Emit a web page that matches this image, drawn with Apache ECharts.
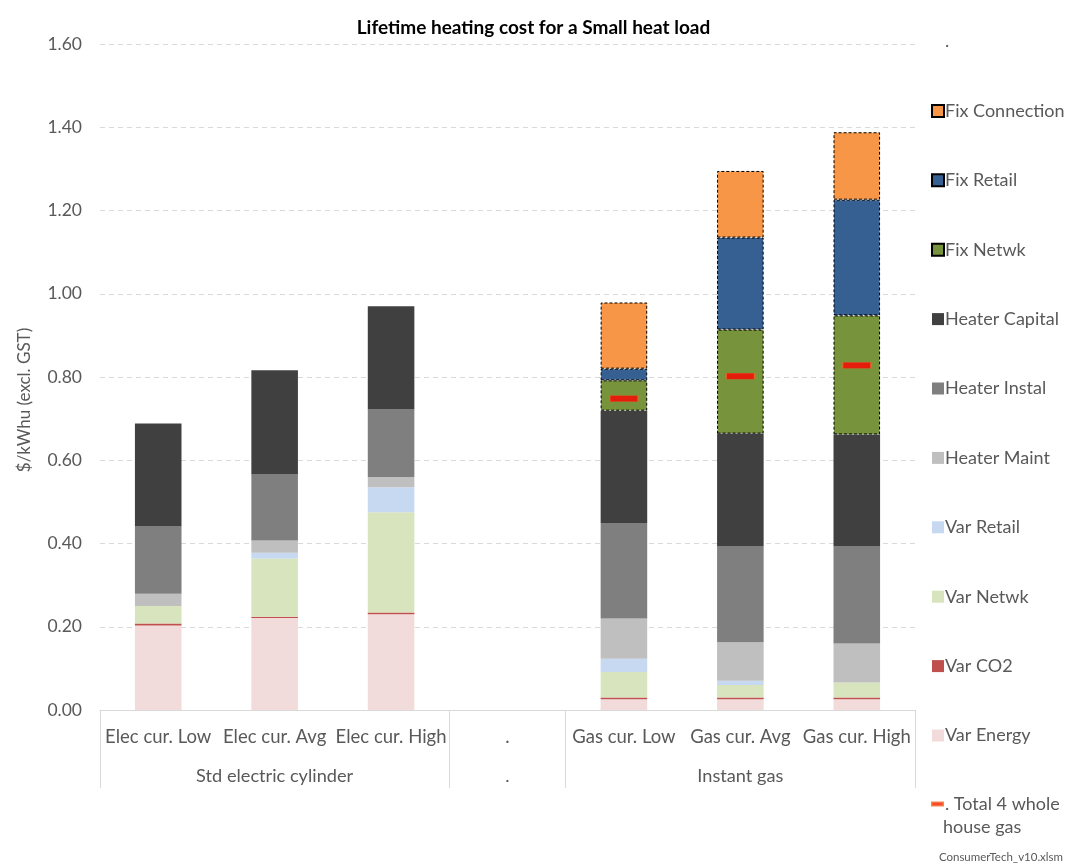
<!DOCTYPE html>
<html><head><meta charset="utf-8">
<script src="https://cdn.jsdelivr.net/npm/echarts@6/dist/echarts.min.js"></script>
<style>html,body{margin:0;padding:0;background:#fff}#c{width:1067px;height:863px}</style>
</head><body><div id="c"></div>
<script>
const categories = ['Elec cur. Low','Elec cur. Avg','Elec cur. High','.','Gas cur. Low','Gas cur. Avg','Gas cur. High'];
const groupNames = ['Std electric cylinder','.','Instant gas'];
const groupSpans = [3,1,3];
const yTicks = [0,0.2,0.4,0.6,0.8,1.0,1.2,1.4,1.6];

const varEnergy     = [0.203,0.221,0.230,null,0.026,0.026,0.026];
const varCO2        = [0.005,0.003,0.004,null,0.004,0.004,0.004];
const varNetwk      = [0.042,0.140,0.241,null,0.061,0.030,0.036];
const varRetail     = [0.000,0.014,0.060,null,0.032,0.010,0.000];
const heaterMaint   = [0.029,0.029,0.025,null,0.097,0.093,0.094];
const heaterInstal  = [0.162,0.159,0.162,null,0.229,0.230,0.233];
const heaterCapital = [0.247,0.250,0.248,null,0.270,0.271,0.269];
const fixNetwk      = [null,null,null,null,0.073,0.250,0.286];
const fixRetail     = [null,null,null,null,0.028,0.221,0.278];
const fixConnection = [null,null,null,null,0.159,0.160,0.162];
const totalWholeHouseGas = [null,null,null,null,0.748,0.802,0.828];

// group boundaries / centres derived from spans
const bounds = [0]; groupSpans.forEach(s => bounds.push(bounds[bounds.length-1] + s));
const centres = groupSpans.map((s,i) => bounds[i] + s/2);

const FONT = 'Lato';
const TXT = '#595959';
const dashBorder = {borderColor:'#000', borderWidth:1, borderType:[3,2]};

function bar(name, data, color, extra) {
  return {name, type:'bar', stack:'total', data, barWidth:'40%',
    itemStyle: Object.assign({color}, extra||{}), emphasis:{disabled:true}};
}

const series = [
  bar('Var Energy', varEnergy, '#f2dcdb'),
  bar('Var CO2', varCO2, '#c0504d'),
  bar('Var Netwk', varNetwk, '#d7e4bd'),
  bar('Var Retail', varRetail, '#c6d9f1'),
  bar('Heater Maint', heaterMaint, '#bfbfbf'),
  bar('Heater Instal', heaterInstal, '#7f7f7f'),
  bar('Heater Capital', heaterCapital, '#404040'),
  bar('Fix Netwk', fixNetwk, '#77933c', dashBorder),
  bar('Fix Retail', fixRetail, '#376092', dashBorder),
  bar('Fix Connection', fixConnection, '#f79646', dashBorder),
  bar('.', [], 'rgba(0,0,0,0)'),
  {name:'. Total 4 whole house gas', type:'scatter', data: totalWholeHouseGas,
   symbol:'rect', symbolSize:[28,6], z:10,
   itemStyle:{color:'#ff0000', borderColor:'#f26b2a', borderWidth:0.5}, emphasis:{disabled:true}}
];

const legendNames = ['.','Fix Connection','Fix Retail','Fix Netwk','Heater Capital','Heater Instal','Heater Maint','Var Retail','Var Netwk','Var CO2','Var Energy'];

const chart = echarts.init(document.getElementById('c'), null, {renderer:'canvas'});
chart.setOption({
  animation:false,
  backgroundColor:'#fff',
  textStyle:{fontFamily:FONT},
  title:{text:'Lifetime heating cost for a Small heat load', left:'center', top:13,
    textStyle:{fontFamily:FONT, fontSize:19, fontWeight:'bold', color:'#000'}},
  grid:{left:100, right:152, top:44, bottom:153, containLabel:false},
  legend:[{
    orient:'vertical', left:926, top:27.5, itemWidth:12, itemHeight:12, itemGap:51.4,
    icon:'rect',
    data: legendNames, selectedMode:false,
    textStyle:{fontFamily:FONT, fontSize:18, color:TXT, padding:[0,0,0,-4]}
  },{
    orient:'vertical', left:926, top:790, itemWidth:11, itemHeight:3, icon:'rect',
    data:['. Total 4 whole house gas'], selectedMode:false,
    formatter: () => '. Total 4 whole',
    textStyle:{fontFamily:FONT, fontSize:18, color:TXT, padding:[0,0,0,-3]}
  }],
  graphic:[
    {type:'text', left:943, top:818, style:{text:'house gas', font:'18px '+FONT, fill:TXT}},
    {type:'text', right:4, bottom:0, style:{text:'ConsumerTech_v10.xlsm', font:'11.5px '+FONT, fill:TXT}}
  ],
  xAxis:[{
    type:'category', data:categories, position:'bottom',
    axisLine:{show:true, lineStyle:{color:'#d9d9d9', width:1}},
    axisTick:{show:false},
    axisLabel:{interval:0, margin:18, fontFamily:FONT, fontSize:18.5, color:TXT}
  },{
    type:'value', min:0, max:bounds[bounds.length-1], position:'bottom',
    axisLine:{show:false}, splitLine:{show:false},
    axisTick:{show:true, length:78, customValues:bounds, lineStyle:{color:'#d9d9d9'}},
    axisLabel:{show:true, customValues:centres, margin:57, fontFamily:FONT, fontSize:18.2, color:TXT,
      formatter: v => groupNames[centres.indexOf(v)]}
  }],
  yAxis:{
    type:'value', min:yTicks[0], max:yTicks[yTicks.length-1], interval:0.2,
    name:'$/kWhu (excl. GST)', nameLocation:'middle', nameGap:67,
    nameTextStyle:{fontFamily:FONT, fontSize:17, color:TXT, padding:[0,46,0,0]},
    axisLine:{show:false}, axisTick:{show:false},
    axisLabel:{margin:18, fontFamily:FONT, fontSize:17.5, color:TXT, formatter: v => v.toFixed(2)},
    splitLine:{lineStyle:{color:'#d9d9d9', type:[5,4]}}
  },
  series
});
</script></body></html>
